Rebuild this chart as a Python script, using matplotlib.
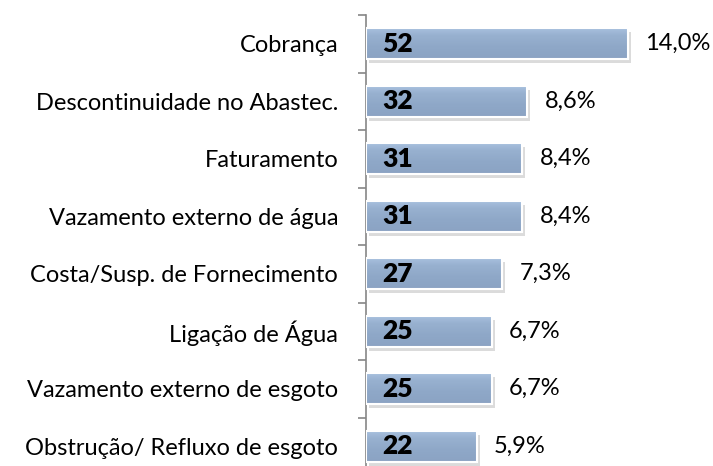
import matplotlib.pyplot as plt
import matplotlib.patheffects as pe
from matplotlib.colors import LinearSegmentedColormap
import numpy as np

plt.rcParams['font.family'] = ['Lato', 'DejaVu Sans']

# data
categories = ['Cobrança', 'Descontinuidade no Abastec.', 'Faturamento',
              'Vazamento externo de água', 'Costa/Susp. de Fornecimento',
              'Ligação de Água', 'Vazamento externo de esgoto',
              'Obstrução/ Refluxo de esgoto']
counts = [52, 32, 31, 31, 27, 25, 25, 22]
percents = ['14,0%', '8,6%', '8,4%', '8,4%', '7,3%', '6,7%', '6,7%', '5,9%']

fig = plt.figure(figsize=(7.13, 4.66), dpi=100)
ax = fig.add_axes([366 / 713, -9 / 466, 302.5 / 713, 460 / 466])

y = np.arange(len(categories))
bar_h = 0.54
bars = ax.barh(y, counts, height=bar_h, color='#8fa8c8', edgecolor='white',
               linewidth=1.5, zorder=2,
               path_effects=[pe.SimplePatchShadow(offset=(2, -3), shadow_rgbFace='#999999', alpha=0.35),
                             pe.Normal()])

# vertical gradient inside each bar
cmap = LinearSegmentedColormap.from_list(
    'g', [(0, '#aac2e0'), (0.25, '#98b1d0'), (0.6, '#8fa8c8'), (1, '#8ba3c3')])
grad = np.linspace(0, 1, 64).reshape(-1, 1)
for b, yi, v in zip(bars, y, counts):
    im = ax.imshow(grad, extent=[0, v, yi + bar_h / 2, yi - bar_h / 2],
                   aspect='auto', cmap=cmap, zorder=2.5, origin='upper')
    im.set_clip_path(b)
    # redraw white edge on top
    ax.barh(yi, v, height=bar_h, facecolor='none', edgecolor='white',
            linewidth=1.5, zorder=3)

for yi, v, p in zip(y, counts, percents):
    ax.text(3.3, yi, str(v), va='center', ha='left', fontsize=19,
            fontweight='heavy', color='black', zorder=4)
    ax.text(v + 3.4, yi, p, va='center', ha='left', fontsize=17, color='black')

ax.set_xlim(0, 60)
ax.set_ylim(len(categories) - 0.5, -0.5)

for s in ['top', 'right', 'bottom']:
    ax.spines[s].set_visible(False)
ax.spines['left'].set_color('#868686')
ax.spines['left'].set_linewidth(1.2)
ax.set_xticks([])
ax.set_yticks(y)
ax.set_yticklabels(categories, fontsize=17)
ax.tick_params(axis='y', which='major', length=0, pad=20)
ax.set_yticks(np.arange(-0.5, len(categories) + 0.5, 1), minor=True)
ax.tick_params(axis='y', which='minor', length=6, width=1.2, color='#868686')

fig.savefig('out.png', dpi=100)
